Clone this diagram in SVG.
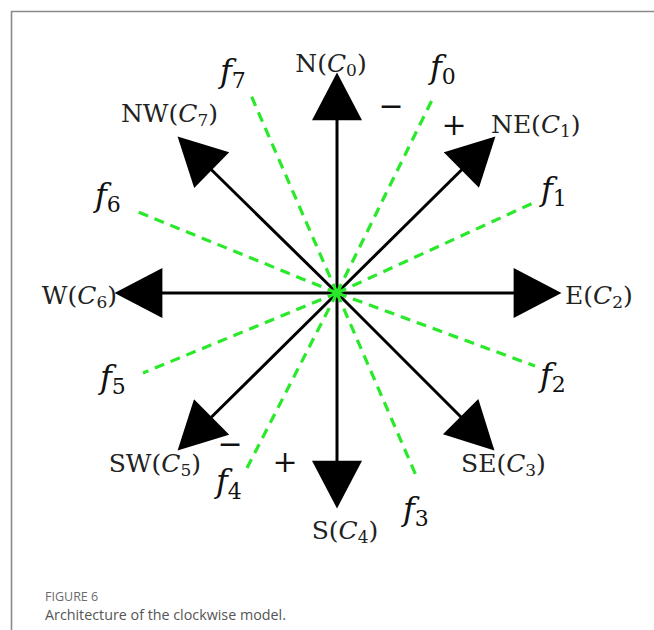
<svg xmlns="http://www.w3.org/2000/svg" width="654" height="630" viewBox="0 0 654 630">
<style>
.ax{stroke:#000;stroke-width:3;fill:none;marker-end:url(#ah)}
.fl{stroke:#2ae82a;stroke-width:3.2;stroke-dasharray:10 7;fill:none}
.lb{font-family:"DejaVu Serif","Liberation Serif",serif;font-size:25px;fill:#222}
.it{font-style:italic}
.sb{font-size:17px}
.fx{font-family:"DejaVu Serif","Liberation Serif",serif;font-size:32px;fill:#111}
.fs{font-size:22px;font-style:normal}
.sg{font-family:"DejaVu Serif","Liberation Serif",serif;font-size:30px;fill:#111;text-anchor:middle}
.cap1{font-family:"Open Sans","Liberation Sans",sans-serif;font-size:12.5px;fill:#6b6b6b}
.cap2{font-family:"Open Sans","Liberation Sans",sans-serif;font-size:14.3px;fill:#555}
</style>
<defs>
<marker id="ah" markerUnits="userSpaceOnUse" markerWidth="50" markerHeight="50" refX="4" refY="23" orient="auto" viewBox="0 0 44 46">
<path d="M0,0 L44,23 L0,46 Z" fill="#000"/>
</marker>
</defs>
<rect width="654" height="630" fill="#fff"/>
<path d="M11.5,630 L11.5,11.5 L654,11.5" fill="none" stroke="#8a8a8a" stroke-width="1.6"/>
<g id="connectors">
<line class="ax" x1="337" y1="293" x2="337" y2="116"/>
<line class="ax" x1="337" y1="293" x2="518" y2="293"/>
<line class="ax" x1="337" y1="293" x2="337" y2="465"/>
<line class="ax" x1="337" y1="293" x2="158" y2="293"/>
<line class="ax" x1="337" y1="293" x2="464.5" y2="167"/>
<line class="ax" x1="337" y1="293" x2="208.6" y2="167"/>
<line class="ax" x1="337" y1="293" x2="463.7" y2="419.7"/>
<line class="ax" x1="337" y1="293" x2="208.5" y2="420"/>
<line class="fl" x1="337" y1="293" x2="433" y2="98"/>
<line class="fl" x1="337" y1="293" x2="533" y2="203"/>
<line class="fl" x1="337" y1="293" x2="535" y2="366"/>
<line class="fl" x1="337" y1="293" x2="418" y2="480"/>
<line class="fl" x1="337" y1="293" x2="247" y2="468"/>
<line class="fl" x1="337" y1="293" x2="143" y2="373"/>
<line class="fl" x1="337" y1="293" x2="138" y2="212"/>
<line class="fl" x1="337" y1="293" x2="250" y2="93"/>
</g>
<g id="N"><text class="lb" x="331" y="72" text-anchor="middle">N(<tspan class="it">C</tspan><tspan class="sb" dy="4">0</tspan><tspan dy="-4">)</tspan></text></g>
<g id="NE"><text class="lb" x="491" y="133">NE(<tspan class="it">C</tspan><tspan class="sb" dy="4">1</tspan><tspan dy="-4">)</tspan></text></g>
<g id="E"><text class="lb" x="565" y="304">E(<tspan class="it">C</tspan><tspan class="sb" dy="4">2</tspan><tspan dy="-4">)</tspan></text></g>
<g id="SE"><text class="lb" x="461" y="472">SE(<tspan class="it">C</tspan><tspan class="sb" dy="4">3</tspan><tspan dy="-4">)</tspan></text></g>
<g id="S"><text class="lb" x="345" y="539" text-anchor="middle">S(<tspan class="it">C</tspan><tspan class="sb" dy="4">4</tspan><tspan dy="-4">)</tspan></text></g>
<g id="SW"><text class="lb" x="201" y="472" text-anchor="end">SW(<tspan class="it">C</tspan><tspan class="sb" dy="4">5</tspan><tspan dy="-4">)</tspan></text></g>
<g id="W"><text class="lb" x="117" y="304" text-anchor="end">W(<tspan class="it">C</tspan><tspan class="sb" dy="4">6</tspan><tspan dy="-4">)</tspan></text></g>
<g id="NW"><text class="lb" x="218" y="122" text-anchor="end">NW(<tspan class="it">C</tspan><tspan class="sb" dy="4">7</tspan><tspan dy="-4">)</tspan></text></g>
<g id="f0"><text class="fx" x="430" y="78"><tspan class="it">f</tspan><tspan class="fs" dy="6">0</tspan></text></g>
<g id="f1"><text class="fx" x="541" y="200"><tspan class="it">f</tspan><tspan class="fs" dy="6">1</tspan></text></g>
<g id="f2"><text class="fx" x="540" y="386"><tspan class="it">f</tspan><tspan class="fs" dy="6">2</tspan></text></g>
<g id="f3"><text class="fx" x="403" y="520"><tspan class="it">f</tspan><tspan class="fs" dy="6">3</tspan></text></g>
<g id="f4"><text class="fx" x="216" y="492"><tspan class="it">f</tspan><tspan class="fs" dy="7">4</tspan></text></g>
<g id="f5"><text class="fx" x="100" y="388"><tspan class="it">f</tspan><tspan class="fs" dy="6">5</tspan></text></g>
<g id="f6"><text class="fx" x="95" y="206"><tspan class="it">f</tspan><tspan class="fs" dy="6">6</tspan></text></g>
<g id="f7"><text class="fx" x="220" y="82"><tspan class="it">f</tspan><tspan class="fs" dy="6">7</tspan></text></g>
<g id="signs">
<text class="sg" x="391" y="116">−</text>
<text class="sg" x="454" y="135">+</text>
<text class="sg" x="230" y="454">−</text>
<text class="sg" x="285" y="472">+</text>
</g>
<g id="caption">
<text class="cap1" x="45" y="601">FIGURE 6</text>
<text class="cap2" x="45" y="620">Architecture of the clockwise model.</text>
</g>
</svg>
